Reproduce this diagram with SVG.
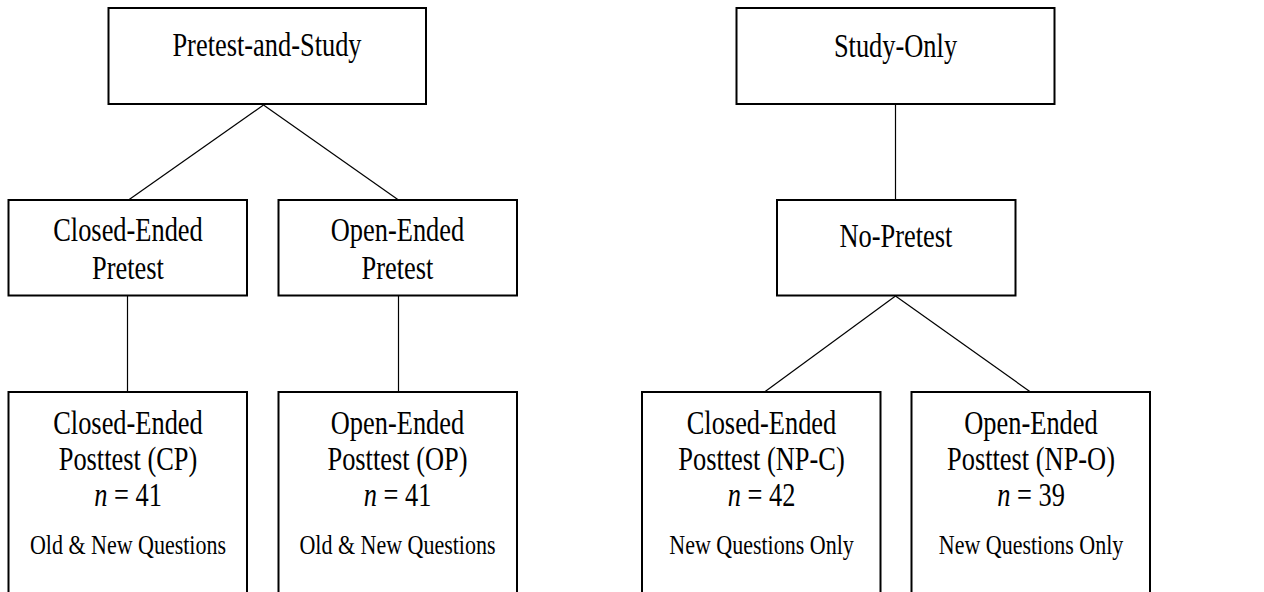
<svg xmlns="http://www.w3.org/2000/svg" width="1264" height="592" viewBox="0 0 1264 592">
<style>
.box{fill:#fff;stroke:#000;stroke-width:2}
.edge{stroke:#000;stroke-width:1.2;fill:none}
text{font-family:"Liberation Serif","Times New Roman",serif;fill:#000;text-anchor:middle}
.big{font-size:33px}
.small{font-size:27.5px}
.it{font-style:italic}
</style>
<rect width="1264" height="592" fill="#fff"/>
<g id="connectors">
<line class="edge" x1="263.5" y1="105" x2="128.5" y2="200"/>
<line class="edge" x1="263.5" y1="105" x2="398.5" y2="200"/>
<line class="edge" x1="127.5" y1="296" x2="127.5" y2="392"/>
<line class="edge" x1="398.5" y1="296" x2="398.5" y2="392"/>
<line class="edge" x1="895.5" y1="104" x2="895.5" y2="200"/>
<line class="edge" x1="895.5" y1="296" x2="764.5" y2="392"/>
<line class="edge" x1="895.5" y1="296" x2="1030.5" y2="392"/>
</g>
<g id="pretest-and-study">
<rect class="box" x="108.5" y="8" width="317.5" height="96"/>
<text class="big" transform="translate(267,55.5) scale(0.8,1)">Pretest-and-Study</text>
</g>
<g id="study-only">
<rect class="box" x="736.5" y="8" width="318" height="96"/>
<text class="big" transform="translate(895.5,56.5) scale(0.8,1)">Study-Only</text>
</g>
<g id="closed-pretest">
<rect class="box" x="8.5" y="200" width="238.5" height="95.5"/>
<text class="big" transform="translate(128,240.5) scale(0.8,1)">Closed-Ended</text>
<text class="big" transform="translate(128,279) scale(0.8,1)">Pretest</text>
</g>
<g id="open-pretest">
<rect class="box" x="278.5" y="200" width="238.5" height="95.5"/>
<text class="big" transform="translate(397.5,240.5) scale(0.8,1)">Open-Ended</text>
<text class="big" transform="translate(397.5,279) scale(0.8,1)">Pretest</text>
</g>
<g id="no-pretest">
<rect class="box" x="777" y="200" width="238.5" height="95.5"/>
<text class="big" transform="translate(896,246.5) scale(0.8,1)">No-Pretest</text>
</g>
<g id="cp">
<rect class="box" x="8.5" y="392" width="238.5" height="206"/>
<text class="big" transform="translate(128,433.5) scale(0.8,1)">Closed-Ended</text>
<text class="big" transform="translate(128,470) scale(0.8,1)">Posttest (CP)</text>
<text class="big" transform="translate(128,505.5) scale(0.8,1)"><tspan class="it">n</tspan> = 41</text>
<text class="small" transform="translate(128,553.5) scale(0.8,1)">Old &amp; New Questions</text>
</g>
<g id="op">
<rect class="box" x="278.5" y="392" width="238.5" height="206"/>
<text class="big" transform="translate(397.5,433.5) scale(0.8,1)">Open-Ended</text>
<text class="big" transform="translate(397.5,470) scale(0.8,1)">Posttest (OP)</text>
<text class="big" transform="translate(397.5,505.5) scale(0.8,1)"><tspan class="it">n</tspan> = 41</text>
<text class="small" transform="translate(397.5,553.5) scale(0.8,1)">Old &amp; New Questions</text>
</g>
<g id="np-c">
<rect class="box" x="642" y="392" width="238.5" height="206"/>
<text class="big" transform="translate(761.5,433.5) scale(0.8,1)">Closed-Ended</text>
<text class="big" transform="translate(761.5,470) scale(0.8,1)">Posttest (NP-C)</text>
<text class="big" transform="translate(761.5,505.5) scale(0.8,1)"><tspan class="it">n</tspan> = 42</text>
<text class="small" transform="translate(761.5,553.5) scale(0.8,1)">New Questions Only</text>
</g>
<g id="np-o">
<rect class="box" x="911.5" y="392" width="238.5" height="206"/>
<text class="big" transform="translate(1031,433.5) scale(0.8,1)">Open-Ended</text>
<text class="big" transform="translate(1031,470) scale(0.8,1)">Posttest (NP-O)</text>
<text class="big" transform="translate(1031,505.5) scale(0.8,1)"><tspan class="it">n</tspan> = 39</text>
<text class="small" transform="translate(1031,553.5) scale(0.8,1)">New Questions Only</text>
</g>
</svg>
